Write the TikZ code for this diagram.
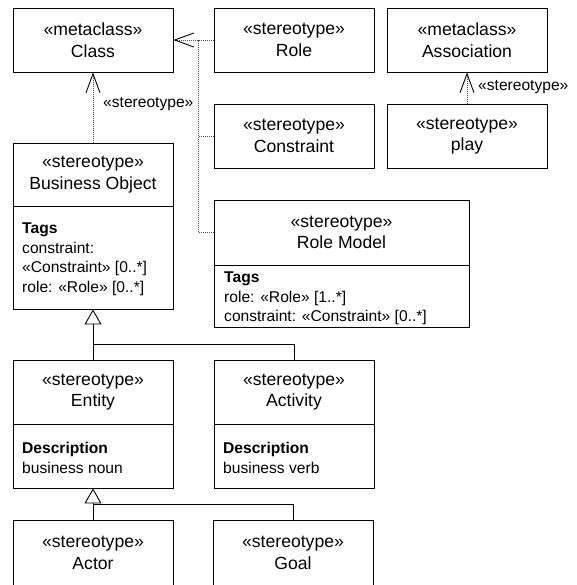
\documentclass[tikz,border=0pt]{standalone}
\usepackage{fontspec}
\setmainfont{Liberation Sans}
\usetikzlibrary{arrows.meta}
\tikzset{
  box/.style={draw, line width=0.9pt, inner sep=0pt, rectangle},
  ttl/.style={align=center, inner sep=0pt, font=\fontsize{17.6}{21.5}\selectfont},
  tags/.style={align=left, inner sep=0pt, anchor=north west, font=\fontsize{15.6}{19.5}\selectfont},
  lbl/.style={inner sep=0pt, anchor=west, font=\fontsize{15.6}{19}\selectfont},
  depline/.style={line width=0.8pt, black!70, dash pattern=on 1pt off 1pt},
  dep/.style={depline, -{Straight Barb[length=19pt,width=14pt,line width=0.9pt,color=black]}},
  genline/.style={line width=0.9pt},
  gen/.style={genline, -{Triangle[open, length=15pt, width=17pt, line width=0.9pt, fill=white]}},
}
\begin{document}
\begin{tikzpicture}[x=1pt, y=-1pt]
\useasboundingbox (0,0) rectangle (576,585);
\clip (0,0) rectangle (576,585);
% simple boxes
\node[box, ttl, minimum width=160pt, minimum height=64pt] (class) at (93,40) {«metaclass»\\Class};
\node[box, ttl, minimum width=160pt, minimum height=64pt] (role) at (294,40) {«stereotype»\\Role};
\node[box, ttl, minimum width=160pt, minimum height=64pt] (assoc) at (467,40) {«metaclass»\\Association};
\node[box, ttl, minimum width=160pt, minimum height=64pt] (constraint) at (294,136) {«stereotype»\\Constraint};
\node[box, ttl, minimum width=160pt, minimum height=64pt] (play) at (467,136) {«stereotype»\\play};
% Business Object
\node[box, minimum width=160pt, minimum height=166pt] (bo) at (93,226) {};
\draw[line width=0.9pt] (bo.west |- 0,206) -- (bo.east |- 0,206);
\node[ttl] (botitle) at (93,174.5) {«stereotype»\\Business Object};
\node[tags] (botags) at (22,223) {\textbf{Tags}\\constraint:\\«Constraint» [0..*]\\role: «Role» [0..*]};
% Role Model
\node[box, minimum width=255pt, minimum height=127pt] (rm) at (341.5,263.5) {};
\draw[line width=0.9pt] (rm.west |- 0,265) -- (rm.east |- 0,265);
\node[ttl] (rmtitle) at (341.5,232.5) {«stereotype»\\Role Model};
\node[tags] (rmtags) at (224,272) {\textbf{Tags}\\role: «Role» [1..*]\\constraint: «Constraint» [0..*]};
% Entity
\node[box, minimum width=160pt, minimum height=128pt] (entity) at (93,424) {};
\draw[line width=0.9pt] (entity.west |- 0,424) -- (entity.east |- 0,424);
\node[ttl] (entitytitle) at (93,392) {«stereotype»\\Entity};
\node[tags] (entitydesc) at (22,442) {\textbf{Description}\\business noun};
% Activity
\node[box, minimum width=160pt, minimum height=128pt] (activity) at (294,424) {};
\draw[line width=0.9pt] (activity.west |- 0,424) -- (activity.east |- 0,424);
\node[ttl] (activitytitle) at (294,392) {«stereotype»\\Activity};
\node[tags] (activitydesc) at (223,442) {\textbf{Description}\\business verb};
% Actor, Goal
\node[box, ttl, minimum width=160pt, minimum height=66pt] (actor) at (93,553) {«stereotype»\\Actor};
\node[box, ttl, minimum width=160pt, minimum height=66pt] (goal) at (293,553) {«stereotype»\\Goal};
% dependencies
\coordinate (j) at (198,40);
\draw[depline] (constraint.west) -| (j);
\draw[depline] (rm.west |- rmtitle) -| (j);
\draw[dep] (role.west) -- (class.east);
\draw[dep] (bo.north) -- (class.south);
\node[lbl] (l1) at (103,104) {«stereotype»};
\draw[dep] (play.north) -- (assoc.south);
\node[lbl] (l2) at (478,87) {«stereotype»};
% generalizations
\coordinate (g1) at (93,344);
\coordinate (g2) at (93,504);
\draw[genline] (activity.north) |- (g1);
\draw[gen] (entity.north) -- (bo.south);
\draw[genline] (goal.north) |- (g2);
\draw[gen] (actor.north) -- (entity.south);
\end{tikzpicture}
\end{document}
